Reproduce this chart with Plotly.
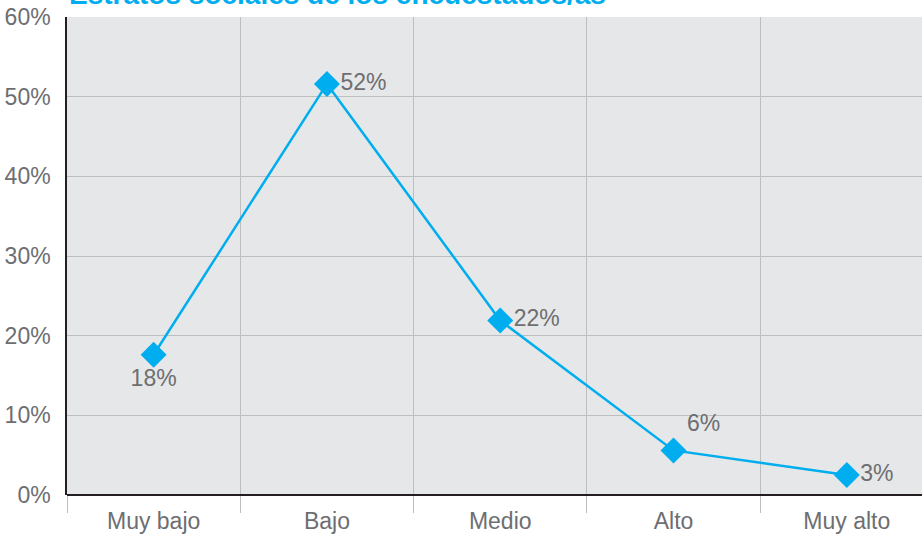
import plotly.graph_objects as go

categories = ["Muy bajo", "Bajo", "Medio", "Alto", "Muy alto"]
values = [17.6, 51.6, 21.9, 5.6, 2.5]
labels = ["18%", "52%", "22%", "6%", "3%"]
label_positions = ["bottom center", "middle right", "middle right", "top right", "middle right"]
y_ticks = [0, 10, 20, 30, 40, 50, 60]
y_ticktext = ["0%", "10%", "20%", "30%", "40%", "50%", "60%"]
title_text = "Estratos sociales de los encuestados/as"

FONT = "Liberation Sans, Arial, sans-serif"
CYAN = "#00aeef"
GRAY = "#6d6e71"

x = list(range(len(categories)))

fig = go.Figure()
fig.add_trace(go.Scatter(
    x=x, y=values, mode="lines+markers+text",
    line=dict(color=CYAN, width=2.5),
    marker=dict(symbol="diamond", size=20, color=CYAN),
    text=labels, textposition=label_positions,
    textfont=dict(family=FONT, size=23, color=GRAY),
    cliponaxis=False, showlegend=False,
))

fig.update_layout(
    width=922, height=539,
    margin=dict(l=67, r=0, t=17, b=44, autoexpand=False),
    paper_bgcolor="white", plot_bgcolor="#e6e7e8",
    font=dict(family=FONT, color=GRAY, size=23),
    xaxis=dict(
        range=[-0.5, 4.434], tickmode="array", tickvals=x, ticktext=categories,
        showgrid=False, ticks="", zeroline=False, automargin=False,
        showline=False, ticklabelstandoff=10,
        tickfont=dict(family=FONT, size=23, color=GRAY),
        minor=dict(tick0=0.5, dtick=1, showgrid=True, gridcolor="#bcbec0", gridwidth=1,
                   ticks="outside", ticklen=17, tickcolor="#bcbec0", tickwidth=1),
    ),
    yaxis=dict(
        range=[0, 60], tickmode="array", tickvals=y_ticks, ticktext=y_ticktext,
        showgrid=True, gridcolor="#bcbec0", gridwidth=1, automargin=False,
        zeroline=True, zerolinecolor="#231f20", zerolinewidth=1.5,
        showline=True, linecolor="#231f20", linewidth=1.5,
        ticks="", ticklabelstandoff=10, tickfont=dict(family=FONT, size=23, color=GRAY),
    ),
)

fig.add_annotation(
    text="<b>" + title_text + "</b>", xref="paper", yref="paper",
    x=0, y=1, xanchor="left", yanchor="bottom", yshift=5, showarrow=False,
    font=dict(family=FONT, size=28, color=CYAN),
)

fig.write_html(
    "out.html",
    config={"displayModeBar": False},
    post_script="document.body.style.margin='0';document.body.style.overflow='hidden';",
)
